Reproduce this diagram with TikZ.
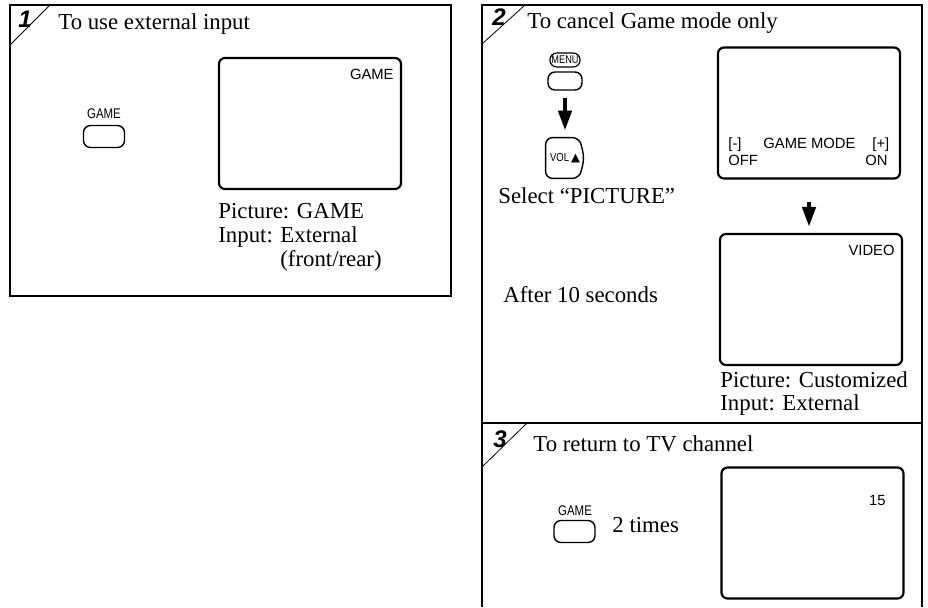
\documentclass[tikz,border=0pt]{standalone}
\usepackage{fontspec}
\setmainfont{Liberation Serif}
\setsansfont{Liberation Sans}
\newfontfamily\narrowsf[FakeStretch=0.82]{Liberation Sans}
\newfontfamily\symsf{DejaVu Sans}
\usepackage{tikz}
\usetikzlibrary{arrows.meta, positioning}

\begin{document}
\begin{tikzpicture}
  [
    x=0.5pt, y=-0.5pt,
    Frame/.style={line width=1.1pt},
    Corner/.style={line width=0.4pt},
    Num/.style={font=\sffamily\bfseries\itshape\fontsize{12}{12}\selectfont, inner sep=0pt},
    Txt/.style={font=\fontsize{11.4}{13}\selectfont, anchor=base west, inner sep=0pt},
    Screen/.style={draw, line width=1.1pt, rounded corners=3pt, minimum width=91pt, minimum height=65.5pt, inner sep=0pt},
    OSD/.style={font=\sffamily\fontsize{7.4}{8}\selectfont, inner sep=0pt},
    Key/.style={draw, line width=0.7pt, rounded corners=3.5pt, minimum width=20.5pt, minimum height=11pt, inner sep=0pt},
    KeyLbl/.style={font=\narrowsf\fontsize{7}{7}\selectfont, inner sep=0pt, anchor=base},
    Down/.style={-{Triangle[width=6.5pt, length=10pt]}, line width=2.2pt}
  ]
  \useasboundingbox (0,0) rectangle (928,607);
  % Frames
  \draw[Frame] (10,5) rectangle (451,296);
  \draw[Frame] (482,607) -- (482,5) -- (922,5) -- (922,607);
  \draw[Frame] (482,423) -- (922,423);
  \draw[Corner] (50,5) -- (10,45);
  \draw[Corner] (525,5) -- (482,44);
  \draw[Corner] (527,423) -- (482,467);
  % Step 1
  \node[Num] (n1) at (25,19) {1};
  \node[Txt] (t1) at (58,29) {To use external input};
  \node[KeyLbl] (game1lbl) at (104,118) {GAME};
  \node[Key] (game1) at (104,136.5) {};
  \node[Screen] (scr1) at (310,123.5) {};
  \node[OSD, anchor=base east] (scr1osd) at (394,79) {GAME};
  \node[Txt] (pic1) at (218,218) {Picture: GAME};
  \node[Txt] (in1) at (218,242) {Input: External};
  \node[Txt] (fr1) at (280,266) {(front/rear)};
  % Step 2
  \node[Num] (n2) at (499,17) {2};
  \node[Txt] (t2) at (527,28) {To cancel Game mode only};
  \node[draw, line width=0.6pt, rounded corners=3.5pt, inner sep=0.8pt, minimum height=7pt,
    font=\narrowsf\fontsize{5.6}{6}\selectfont] (menulbl) at (565,60) {MENU};
  \node[Key, minimum width=17pt, minimum height=9pt] (menu) at (565,81) {};
  \node[minimum width=19pt, minimum height=20pt, inner sep=0pt,
    font=\narrowsf\fontsize{5.8}{6}\selectfont] (vol) at (565,158)
    {VOL\,{\symsf\fontsize{5.8}{6}\selectfont ▲}};
  \draw[line width=0.7pt, rounded corners=3.5pt] (vol.north west) -- ([xshift=-2.5pt]vol.north east)
    -- (vol.east) -- ([xshift=-2.5pt]vol.south east) -- (vol.south west) -- cycle;
  \node[Txt] (sel) at (498,203) {Select “PICTURE”};
  \node[Screen] (scr2) at (809,113) {};
  \node[OSD, anchor=base west] (minus) at (728,148) {[-]};
  \node[OSD, anchor=base west] (mode) at (763,148) {GAME MODE};
  \node[OSD, anchor=base west] (plus) at (872,148) {[+]};
  \node[OSD, anchor=base west] (off) at (728,165) {OFF};
  \node[OSD, anchor=base east] (on) at (888,165) {ON};
  \node[Screen] (scr3) at (811,299.5) {};
  \node[OSD, anchor=base east] (video) at (895,255) {VIDEO};
  \node[Txt] (after) at (503,302) {After 10 seconds};
  \node[Txt] (pic2) at (720,387) {Picture: Customized};
  \node[Txt] (in2) at (720,410) {Input: External};
  % Step 3
  \node[Num] (n3) at (500,439) {3};
  \node[Txt] (t3) at (533,451) {To return to TV channel};
  \node[KeyLbl] (game2lbl) at (575,515) {GAME};
  \node[Key] (game2) at (574.5,531.5) {};
  \node[Txt] (times) at (612,532) {2 times};
  \node[Screen] (scr4) at (812.5,533) {};
  \node[OSD, anchor=base east] (ch) at (886,505) {15};
  % Arrows
  \draw[Down, shorten <=3.5pt, shorten >=3.5pt] (menu) -- (vol);
  \draw[Down, shorten <=11pt, shorten >=3pt] (scr2) -- (scr2 |- scr3.north);
\end{tikzpicture}
\end{document}
